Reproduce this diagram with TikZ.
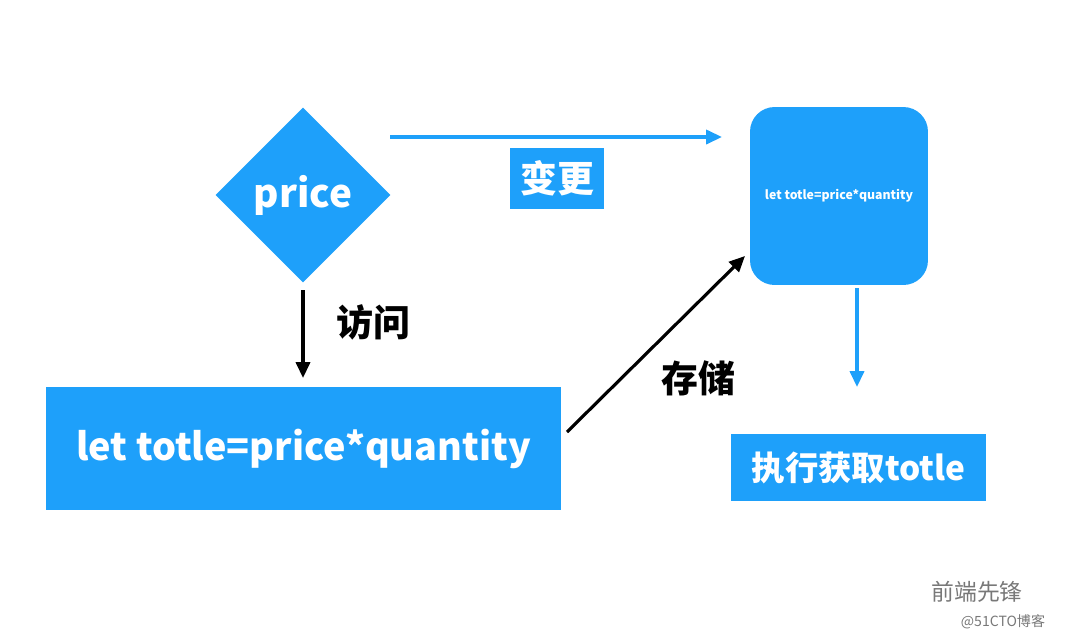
\documentclass[tikz,border=0pt]{standalone}
\usepackage{fontspec}
\setmainfont{Noto Sans CJK SC}
\usetikzlibrary{arrows.meta,positioning,shapes.geometric}
\definecolor{vblue}{RGB}{30,160,250}
\definecolor{wmgray}{RGB}{120,120,120}

\begin{document}
\begin{tikzpicture}[x=0.02cm, y=-0.02cm]
\tikzset{
  blubox/.style={fill=vblue, text=white, font=\bfseries, inner sep=0pt},
  lbl/.style={font=\bfseries\fontsize{21}{23}\selectfont},
  blarrow/.style={-{Triangle[length=9pt,width=8pt]}, line width=1.8pt},
}
\useasboundingbox (0,0) rectangle (1080,640);
% the reactive value
\node[blubox, diamond, minimum size=3.5cm,
      font=\bfseries\fontsize{22}{24}\selectfont] (price) at (303,195) {price};
% effect box
\node[blubox, rounded corners=14pt, minimum width=3.56cm, minimum height=3.56cm,
      font=\bfseries\fontsize{7}{8}\selectfont] (eff) at (839,196) {let totle=price*quantity};
% expression box
\node[blubox, minimum width=10.3cm, minimum height=2.46cm,
      font=\bfseries\fontsize{21.5}{24}\selectfont] (expr) at (303.5,448.5) {let totle=price*quantity};
% result
\node[blubox, minimum width=5.1cm, minimum height=1.34cm,
      font=\bfseries\fontsize{19}{21}\selectfont] (run) at (858.5,467.5) {执行获取totle};
% change label
\node[blubox, minimum width=1.88cm, minimum height=1.22cm,
      font=\bfseries\fontsize{21}{23}\selectfont] (chg) at (557,178.5) {变更};

\coordinate (c1) at (390,137);
\coordinate (c2) at (722,137);
\coordinate (c3) at (303,290);
\coordinate (c4) at (303,378);
\coordinate (c5) at (567,432);
\coordinate (c6) at (745,256);
\coordinate (c7) at (857,288);
\coordinate (c8) at (857,387);

\draw[blarrow, vblue] (c1) -- (c2);
\draw[blarrow] (c3) -- (c4);
\draw[blarrow] (c5) -- (c6);
\draw[blarrow, vblue] (c7) -- (c8);

\node[lbl] (visit) at (373,322) {访问};
\node[lbl] (store) at (698,378) {存储};

% watermark
\node[text=wmgray, font=\fontsize{13}{15}\selectfont] (wm1) at (977,592) {前端先锋};
\node[text=wmgray, font=\fontsize{8}{9}\selectfont] (wm2) at (1003,622) {@51CTO博客};
\end{tikzpicture}
\end{document}
